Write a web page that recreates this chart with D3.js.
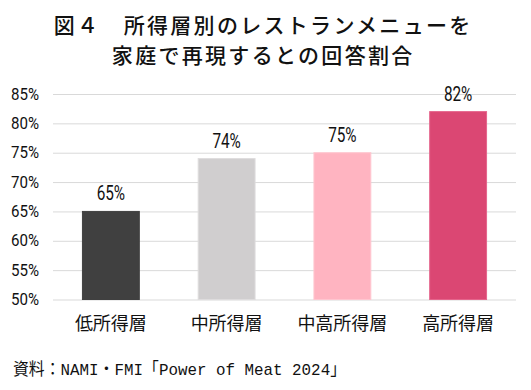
<!DOCTYPE html>
<html><head><meta charset="utf-8">
<script src="https://cdn.jsdelivr.net/npm/d3@7"></script>
<style>html,body{margin:0;padding:0;background:#fff;}svg{display:block;}</style>
</head><body>
<svg id="c" width="531" height="390"></svg>
<script>
const titleLines = ["図４　所得層別のレストランメニューを", "家庭で再現するとの回答割合"];
const categories = ["低所得層", "中所得層", "中高所得層", "高所得層"];
const values = [0.65, 0.74, 0.75, 0.82];
const valueLabels = ["65%", "74%", "75%", "82%"];
const yTicks = [0.50, 0.55, 0.60, 0.65, 0.70, 0.75, 0.80, 0.85];
const colors = ["#404040", "#d0cecf", "#ffb4c1", "#db4773"];
const strokes = ["#404040", "#dedcdd", "#ffc6d0", "#e5658c"];
const source = "資料：NAMI・FMI「Power of Meat 2024」";

const svg = d3.select("#c");
const cjk = "'Noto Sans CJK JP', 'Noto Sans', sans-serif";
const cond = "Roboto, 'Liberation Sans', sans-serif";

const x = d3.scaleBand().domain(categories).range([53, 516]).paddingInner(0.5).paddingOuter(0.25);
const y = d3.scaleLinear().domain([0.5, 0.85]).range([299.5, 94]);

// title
svg.selectAll("text.title").data(titleLines).join("text")
  .attr("x", 263.2).attr("y", (d, i) => 32.5 + i * 30.5)
  .attr("text-anchor", "middle")
  .style("font-family", cjk).style("font-size", "21px").style("font-weight", 500)
  .style("letter-spacing", "2.3px")
  .attr("fill", "#111")
  .text(d => d);

// gridlines
const grid = svg.append("g").attr("transform", "translate(53,0)")
  .call(d3.axisLeft(y).tickValues(yTicks).tickSize(-463).tickFormat(""));
grid.select(".domain").remove();
grid.selectAll(".tick line").attr("stroke", "#d9d9d9").attr("stroke-width", 1);

// y tick labels
svg.selectAll("text.ytick").data(yTicks).join("text")
  .attr("x", 39).attr("y", d => y(d) + 5.5)
  .attr("text-anchor", "end")
  .attr("textLength", 28).attr("lengthAdjust", "spacingAndGlyphs")
  .style("font-family", cond).style("font-size", "16px")
  .attr("fill", "#111")
  .text(d => Math.round(d * 100) + "%");

// bars
svg.selectAll("rect.bar").data(values).join("rect")
  .attr("x", (d, i) => x(categories[i]) + 0.5)
  .attr("y", d => y(d))
  .attr("width", x.bandwidth() - 1)
  .attr("height", d => y(0.5) - y(d))
  .attr("fill", (d, i) => colors[i])
  .attr("stroke", (d, i) => strokes[i])
  .attr("stroke-width", 1);

// value labels
svg.selectAll("text.val").data(values).join("text")
  .attr("x", (d, i) => x(categories[i]) + x.bandwidth() / 2)
  .attr("y", d => y(d) - 11)
  .attr("text-anchor", "middle")
  .attr("textLength", 28.5).attr("lengthAdjust", "spacingAndGlyphs")
  .style("font-family", cond).style("font-size", "21px")
  .attr("fill", "#111")
  .text((d, i) => valueLabels[i]);

// category labels
svg.selectAll("text.cat").data(categories).join("text")
  .attr("x", d => x(d) + x.bandwidth() / 2)
  .attr("y", 330)
  .attr("text-anchor", "middle")
  .style("font-family", cjk).style("font-size", "18px")
  .attr("fill", "#111")
  .text(d => d);

// source
svg.append("text")
  .attr("x", 13).attr("y", 375)
  .attr("textLength", 333).attr("lengthAdjust", "spacingAndGlyphs")
  .style("font-family", "'Liberation Mono', 'Noto Sans CJK JP', monospace").style("font-size", "17px")
  .attr("fill", "#111")
  .text(source);
</script>
</body></html>
